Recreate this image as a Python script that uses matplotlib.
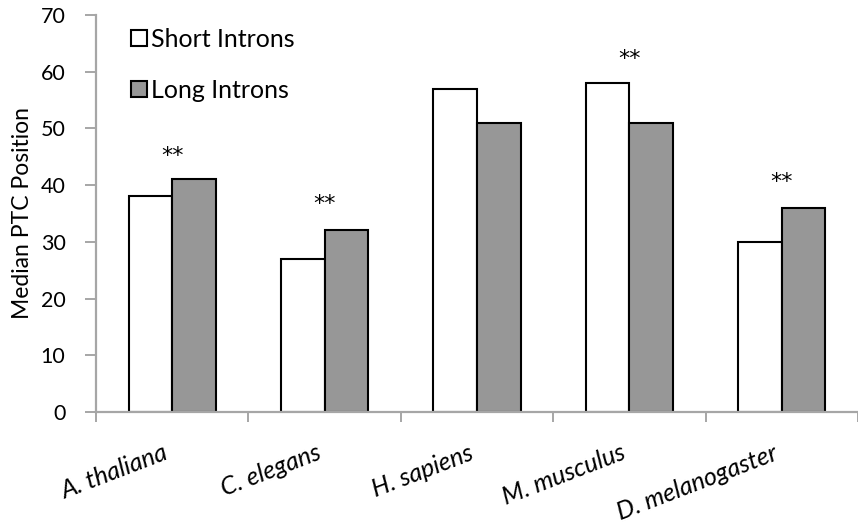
import matplotlib.pyplot as plt
import matplotlib.transforms as mtransforms
import numpy as np

plt.rcParams['font.family'] = ['Lato', 'DejaVu Sans']

species = ["A. thaliana", "C. elegans", "H. sapiens", "M. musculus", "D. melanogaster"]
short_introns = [38, 27, 57, 58, 30]
long_introns = [41, 32, 51, 51, 36]
# significance marks: (species index, baseline height)
stars = [(0, 44.1), (1, 35.6), (3, 61.2), (4, 39.5)]

fig = plt.figure(figsize=(8.58, 5.29), dpi=100)
ax = fig.add_axes([0.112, 0.221, 0.888, 0.751])

x = np.arange(len(species))
w = 0.286
ax.bar(x - w / 2, short_introns, w, color='white', edgecolor='black', linewidth=1.5,
       label='Short Introns', zorder=2)
ax.bar(x + w / 2, long_introns, w, color='#979797', edgecolor='black', linewidth=1.5,
       label='Long Introns', zorder=2)

for i, h in stars:
    ax.text(i, h, "**", ha='center', va='baseline', fontsize=16, family='DejaVu Sans')

ax.set_ylim(0, 70)
ax.set_xlim(-0.5, 4.45)
ax.set_yticks(range(0, 80, 10))
ax.tick_params(axis='y', labelsize=15.5, length=8, width=1.4, color='#a6a6a6',
               direction='out', pad=14)

ax.set_xticks(np.arange(-0.5, 5, 1))
ax.set_xticklabels([])
ax.tick_params(axis='x', length=7, width=1.4, color='#a6a6a6', direction='out')
ax.set_xticks(x, minor=True)
ax.set_xticklabels(species, minor=True, rotation=21, ha='right', rotation_mode='anchor',
                   fontsize=18, style='italic')
ax.tick_params(axis='x', which='minor', length=0, pad=21)
# nudge the species names a little to the left
shift = mtransforms.ScaledTranslation(-9 / 100, 0, fig.dpi_scale_trans)
for lbl in ax.get_xticklabels(minor=True):
    lbl.set_transform(lbl.get_transform() + shift)

for s in ['top', 'right']:
    ax.spines[s].set_visible(False)
for s in ['left', 'bottom']:
    ax.spines[s].set_color('#a6a6a6')
    ax.spines[s].set_linewidth(1.6)
    ax.spines[s].set_zorder(3)

ax.set_ylabel("Median PTC Position", fontsize=16.5)
ax.yaxis.set_label_coords(-0.083, 0.5)

ax.legend(loc='upper left', bbox_to_anchor=(0.046, 0.967), frameon=False, fontsize=18,
          handlelength=0.65, handleheight=0.65, handletextpad=0.15, labelspacing=1.12,
          borderpad=0, borderaxespad=0)

fig.savefig("out.png", dpi=100)
